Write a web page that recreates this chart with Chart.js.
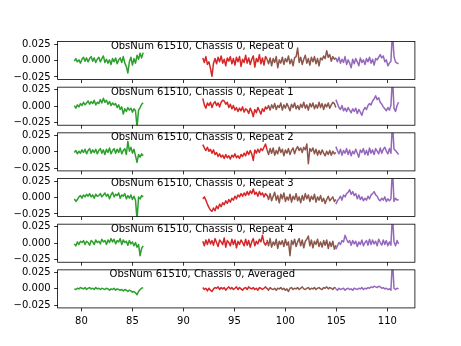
<!DOCTYPE html>
<html>
<head>
<meta charset="utf-8">
<script src="https://cdn.jsdelivr.net/npm/chart.js@4.4.0/dist/chart.umd.min.js"></script>
<style>
html,body{margin:0;background:#fff}
#wrap{position:relative;width:461px;height:346px}
#wrap canvas{position:absolute;left:0;top:0}
</style>
</head>
<body>
<div id="wrap"></div>
<script>
// x positions of each segment
const xGreen=[79.3,79.45,79.6,79.75,79.9,80.05,80.2,80.35,80.5,80.65,80.8,80.95,81.1,81.25,81.4,81.55,81.7,81.85,82.0,82.15,82.3,82.45,82.6,82.75,82.9,83.05,83.2,83.35,83.5,83.65,83.8,83.95,84.1,84.25,84.4,84.55,84.7,84.85,85.0,85.15,85.3,85.45,85.6,85.75,85.9,86.05];
const xRed=[91.9,92.05,92.2,92.35,92.5,92.65,92.8,92.95,93.1,93.25,93.4,93.55,93.7,93.85,94.0,94.15,94.3,94.45,94.6,94.75,94.9,95.05,95.2,95.35,95.5,95.65,95.8,95.95,96.1,96.25,96.4,96.55,96.7,96.85,97.0,97.15,97.3,97.45,97.6,97.75,97.9,98.05,98.2];
const xBrown=[98.2,98.35,98.5,98.65,98.8,98.95,99.1,99.25,99.4,99.55,99.7,99.85,100.0,100.15,100.3,100.45,100.6,100.75,100.9,101.05,101.2,101.35,101.5,101.65,101.8,101.95,102.1,102.25,102.4,102.55,102.7,102.85,103.0,103.15,103.3,103.45,103.6,103.75,103.9,104.05,104.2,104.35,104.5,104.65,104.8,104.95];
const xPurple=[104.95,105.1,105.25,105.4,105.55,105.7,105.85,106.0,106.15,106.3,106.45,106.6,106.75,106.9,107.05,107.2,107.35,107.5,107.65,107.8,107.95,108.1,108.25,108.4,108.55,108.7,108.85,109.0,109.15,109.3,109.45,109.6,109.75,109.9,110.05,110.2,110.35,110.5,110.65,110.8,110.95,111.1];

// Repeat 0
const green0=[-.001,.003,-.002,.001,-.004,.002,.005,-.001,.004,-.002, .003,.006,-.001,.004,-.003,.002,.005,-.002,.003,.007, -.003,.002,-.004,.001,-.006,.003,-.002,.004,-.005,.001, .004,-.003,.006,-.004,-.009,-.019,-.002,.005,-.007,.003, -.004,.008,.002,.011,.004,.012];
const red0=[.004,-.003,.006,-.006,-.002,-.012,-.024,-.004,.003,-.005, .005,-.002,.007,-.004,.002,-.008,.004,-.001,.006,-.005, .003,-.007,.005,-.002,.006,-.009,.002,-.003,.008,-.004, .004,-.006,.002,.007,-.010,.003,-.002,.009,-.005,.004, -.007,.006,.002];
const brown0=[.002,-.005,.004,-.008,.003,-.003,.006,-.011,.001,-.004, .005,-.006,.003,-.002,.007,-.005,.002,-.008,.004,.006, .019,-.003,.005,-.006,.002,.008,-.004,.003,-.007,.005, -.002,.006,-.005,.003,-.008,.004,.001,.007,.003,.015, .005,.009,-.001,.006,.002,.004];
const purple0=[.004,-.002,.005,-.004,.002,-.003,.006,-.006,.001,-.004, -.011,.002,-.005,.003,-.002,-.008,.004,-.003,.001,-.006, .003,-.002,.005,-.004,.002,-.007,.003,.001,.005,.009, .004,.007,-.002,.001,-.008,-.004,-.001,.045,.006,-.002, -.004,-.005];
// Repeat 1
const green1=[.001,-.003,.002,-.001,.004,.001,.006,.002,.005,.008, .003,.007,.004,.009,.002,.006,.004,.010,.005,.012, .006,.009,.003,.007,.001,.005,.002,.004,-.002,.002, -.005,-.001,-.012,-.004,-.008,-.002,-.006,-.003,-.009,-.004, -.007,-.032,-.006,-.002,.003,.005];
const red1=[.012,.002,-.003,.005,.001,.006,-.002,.004,.007,.001, .005,-.001,.006,.009,.008,.003,.006,-.002,.003,-.004, .001,-.006,-.002,-.008,-.003,-.007,-.001,-.009,-.004,-.006, -.011,-.003,-.008,-.016,-.005,-.010,-.002,-.007,-.012,-.004, -.008,-.001,-.005];
const brown1=[-.004,.001,-.006,.002,-.003,.004,-.005,.001,-.002,.005, -.006,.002,-.003,.004,-.001,-.007,.003,-.002,.005,-.004, .001,-.005,.003,-.002,.006,-.003,.002,-.006,.004,-.001, .005,-.004,.002,-.003,.006,-.002,.004,-.005,.003,-.001, .005,-.003,.002,.006,.004,-.002];
const purple1=[.010,.004,-.002,-.005,.001,-.007,-.003,-.008,-.002,-.006, -.010,-.004,-.008,-.003,-.011,-.005,-.009,-.014,-.006,-.002, -.005,.001,.004,.002,.008,.011,.016,.010,.013,.006, .003,-.001,-.004,-.007,-.002,-.006,.001,.045,-.003,-.008, .001,.006];
// Repeat 2
const green2=[-.001,.002,-.003,.001,-.002,.003,-.001,.004,-.003,.002, .005,-.002,.003,-.001,.004,-.003,.002,.005,-.002,.003, -.004,.004,-.001,.006,-.003,.002,.005,-.002,.004,-.001, .006,-.003,.002,.005,-.004,.016,.001,.007,-.002,.004, -.006,-.016,-.004,-.008,-.003,-.006];
const red2=[.011,.006,.002,.007,.001,.004,-.002,.003,-.004,-.001, -.007,-.003,-.008,-.005,-.010,-.004,-.009,-.006,-.011,-.005, -.008,-.003,-.009,-.006,-.010,-.004,-.007,-.002,-.006,.001, -.004,.002,-.003,-.013,.003,-.002,.004,-.001,.005,.002, .007,.012,.003];
const brown2=[.003,-.004,.005,-.002,.006,-.005,.002,-.003,.007,-.001, .004,-.006,.003,-.002,.005,-.004,.002,.006,-.003,.004, .008,.002,.006,-.001,.007,.003,.012,-.018,.005,.001, .006,-.003,.004,-.005,.002,-.004,.003,-.002,-.006,.001, -.004,.002,-.005,.001,-.003,-.001];
const purple2=[.008,.002,-.003,.004,-.005,.002,-.002,.005,-.004,.003, -.006,.001,-.003,.004,-.002,-.008,.003,-.001,.005,-.004, .002,-.005,.006,-.002,.003,-.004,.005,.001,-.003,.006, -.002,.004,.007,.001,-.003,.005,-.002,.045,.004,.002, -.001,-.004];
// Repeat 3
const green3=[-.002,-.006,-.003,.001,.003,-.001,.004,.001,.005,.002, .006,.001,.004,-.001,.005,.002,.003,.006,.001,.004, .007,.002,.005,-.002,.004,.008,.001,.005,.003,.007, -.001,.004,.002,.006,-.002,.003,-.001,.004,-.003,.002, -.004,-.034,.001,-.002,.003,.001];
const red3=[-.002,.001,-.004,-.010,-.015,-.019,-.021,-.016,-.020,-.013, -.017,-.010,-.014,-.008,-.011,-.005,-.009,-.003,-.007,-.001, -.004,.002,-.002,.004,.001,.006,.002,.007,.003,.009, .004,.010,.006,.013,.005,.008,.002,.009,.004,.007, .001,.006,.003];
const brown3=[.004,-.003,.006,-.005,.002,.008,-.004,.003,-.008,.005, -.002,.007,-.006,.001,-.004,.005,-.007,.002,-.003,.006, -.005,.001,-.008,.003,-.004,.006,-.002,.004,-.006,.002, -.003,.005,-.007,.001,-.004,.003,-.006,-.001,-.009,-.003, .002,-.005,-.002,.001,-.006,-.003];
const purple3=[-.010,-.005,-.002,.002,-.004,.004,.001,.006,.008,.012, .005,.009,.003,.006,-.002,.004,-.003,.001,-.005,-.001, -.004,.002,-.002,.004,.006,.009,.004,.002,-.003,-.005, -.001,-.004,.001,-.006,-.002,-.005,-.002,.045,-.006,-.001, -.004,-.003];
// Repeat 4
const green4=[-.001,-.004,.002,-.002,.003,.001,.004,-.002,.003,.001, -.003,.004,.002,-.002,.005,.001,.003,-.001,.006,.002, .004,-.002,.005,.001,.007,.002,.006,-.001,.004,.002, .007,-.002,.005,.001,.003,-.003,.004,-.001,.002,-.004, .001,-.006,-.002,-.019,-.008,-.004];
const red4=[.003,-.004,.005,-.002,.006,-.001,.004,-.003,.007,.001, -.005,.005,.002,-.002,.008,-.006,.004,.001,-.004,.006, -.002,.005,-.007,.003,-.002,.005,.001,-.004,.006,-.003, .004,-.006,.002,.007,-.004,.003,-.001,.006,.002,.012, .001,-.003,.002];
const brown4=[.005,-.004,.007,-.006,.002,-.003,.006,-.008,.003,-.002, .004,-.005,.006,-.003,.002,-.019,.004,-.002,.006,-.005, .002,.007,-.004,.005,-.007,.003,.006,.011,-.004,.005, -.007,.003,-.002,.006,-.005,.002,-.006,.004,-.003,.005, -.008,.002,-.005,.003,-.009,-.003];
const purple4=[-.009,-.004,.001,-.002,.004,.002,.012,.006,.001,.004, -.003,.004,-.001,.003,-.005,.002,-.002,.005,-.004,.001, .004,-.003,.006,-.002,.005,-.001,.003,-.004,.006,.001, -.003,.005,-.002,.004,-.004,.002,-.003,.045,.002,-.004, .004,-.001];
// Averaged
const green5=[.000,-.001,.001,.000,.002,.001,.000,.002,-.001,.001, .002,.000,.001,-.001,.002,.000,.001,-.001,.001,.000, -.001,.001,.000,-.002,.000,-.001,.001,-.002,.000,-.001, -.002,-.001,-.003,-.001,-.002,-.004,-.002,-.003,-.005,-.004, -.006,-.009,-.004,-.001,.001,.002];
const red5=[.002,-.001,.001,-.003,.001,-.002,-.004,.000,.002,.001, .003,-.001,.002,.000,.002,-.002,.001,.003,.000,.002, -.001,.001,.003,-.001,.002,.000,-.002,.001,.002,-.001, .003,.001,.000,.002,-.001,.001,-.002,.002,.001,-.001, .001,.003,.000];
const brown5=[.001,-.002,.002,.000,-.001,.001,-.002,.001,.000,.002, -.001,.001,-.002,.000,-.004,.001,.002,-.001,.001,.000, .002,-.001,.001,.003,.000,-.001,.001,.002,-.001,.001, .000,.002,-.001,.001,.002,.000,-.001,.002,.001,.003, .000,.002,.001,-.001,.002,.001];
const purple5=[.000,-.002,.001,-.001,.000,.001,-.002,.000,.001,-.001, .000,-.002,.001,.000,-.001,.001,.000,.002,-.001,.001, .000,.002,.001,.003,.002,.004,.003,.002,.004,.003, .001,.002,.000,.001,-.001,.000,-.002,.045,.001,-.001, .001,.000];

const titles=['ObsNum 61510, Chassis 0, Repeat 0','ObsNum 61510, Chassis 0, Repeat 1','ObsNum 61510, Chassis 0, Repeat 2',
  'ObsNum 61510, Chassis 0, Repeat 3','ObsNum 61510, Chassis 0, Repeat 4','ObsNum 61510, Chassis 0, Averaged'];
const xTicks=[80,85,90,95,100,105,110];
const yTicks=[-0.025,0,0.025];

const panels=[[green0,red0,brown0,purple0],[green1,red1,brown1,purple1],[green2,red2,brown2,purple2],
  [green3,red3,brown3,purple3],[green4,red4,brown4,purple4],[green5,red5,brown5,purple5]];
const xs=[xGreen,xRed,xBrown,xPurple];
const colors=['#2ca02c','#d62728','#8c564b','#9467bd'];

const W=461,H=346,L=57.6,R=414.9,TOP=41.5,PH=38.06,GAP=7.61;

Chart.defaults.font.family="'DejaVu Sans', sans-serif";
Chart.defaults.font.size=10;
Chart.defaults.color='#000';

// frame on all four sides + title drawn over the axes
const framePlugin={id:'frame',afterDatasetsDraw(c,args,o){
  const a=c.chartArea,ctx=c.ctx;
  ctx.save();
  ctx.strokeStyle='#000';ctx.lineWidth=0.8;
  ctx.strokeRect(a.left,a.top,a.right-a.left,a.bottom-a.top);
  ctx.font="10px 'DejaVu Sans'";ctx.fillStyle='#000';ctx.textAlign='center';ctx.textBaseline='alphabetic';
  ctx.fillText(o.text,202.3,a.top+7.5);
  ctx.restore();
}};

const wrap=document.getElementById('wrap');
const fmtY=v=>(v<0?'\u2212':'')+Math.abs(v).toFixed(3);

panels.forEach((p,i)=>{
  const cv=document.createElement('canvas');
  cv.width=W;cv.height=H;
  wrap.appendChild(cv);
  const top=TOP+i*(PH+GAP),bottom=top+PH,last=i===panels.length-1;
  new Chart(cv,{
    type:'line',
    data:{datasets:p.map((ys,k)=>({
      data:xs[k].map((x,j)=>({x,y:ys[j]})),
      borderColor:colors[k],borderWidth:1.5,borderJoinStyle:'round',
      pointRadius:0,tension:0,fill:false,clip:0
    }))},
    options:{
      responsive:false,animation:false,events:[],
      layout:{padding:{left:0,right:W-R,top:top,bottom:0}},
      plugins:{legend:{display:false},tooltip:{enabled:false},frame:{text:titles[i]}},
      scales:{
        x:{type:'linear',min:77.66,max:112.7,
          afterBuildTicks:s=>{s.ticks=xTicks.map(v=>({value:v}))},
          afterFit:s=>{s.height=H-bottom},
          grid:{drawOnChartArea:false,tickLength:3.5,color:'#000',lineWidth:0.8},
          border:{display:false},
          ticks:{display:last,padding:3.5,maxRotation:0,autoSkip:false,callback:v=>String(v)}},
        y:{type:'linear',min:-0.029,max:0.029,
          afterBuildTicks:s=>{s.ticks=yTicks.map(v=>({value:v}))},
          afterFit:s=>{s.width=L},
          grid:{drawOnChartArea:false,tickLength:3.5,color:'#000',lineWidth:0.8},
          border:{display:false},
          ticks:{padding:3.5,autoSkip:false,callback:fmtY}}
      }
    },
    plugins:[framePlugin]
  });
});
</script>
</body>
</html>
